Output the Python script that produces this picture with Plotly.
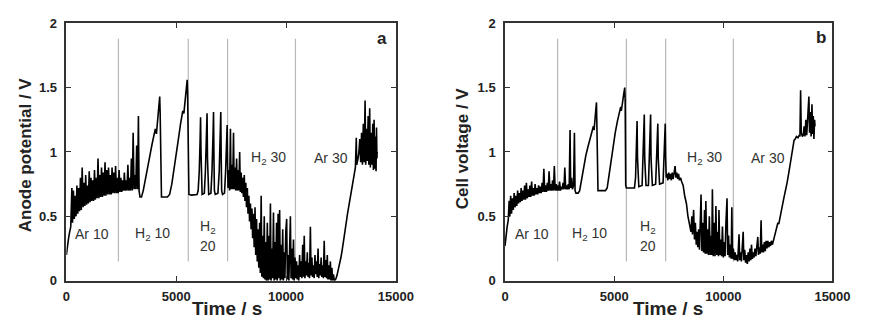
import plotly.graph_objects as go

# ---------------- data ----------------
# panel a : anode potential (V) vs time (s), split by gas phase
anode_ar10 = [(0,0.20),(50,0.28),(100,0.33),(150,0.38),(200,0.42),(250,0.72),(280,0.45),(320,0.70),(360,0.48),
              (400,0.66),(440,0.50),(480,0.74),(520,0.52),(560,0.72),(600,0.54),(640,0.80),(680,0.55),(720,0.88),
              (760,0.57),(800,0.76),(840,0.58),(880,0.82),(920,0.59),(960,0.74),(1000,0.60),(1040,0.85),(1080,0.61),
              (1120,0.80),(1160,0.62),(1200,0.78),(1240,0.62),(1280,0.86),(1320,0.63),(1360,0.80),(1400,0.64),
              (1440,0.95),(1480,0.64),(1520,0.82),(1560,0.65),(1600,0.88),(1640,0.65),(1680,0.84),(1720,0.66),
              (1760,0.92),(1800,0.66),(1840,0.86),(1880,0.67),(1920,0.88),(1960,0.67),(2000,0.82),(2040,0.67),
              (2080,0.88),(2120,0.68),(2160,0.84),(2200,0.68),(2240,0.89),(2280,0.68),(2320,0.80),(2360,0.68),(2400,0.86)]
anode_h2_10 = [(2440,0.69),(2480,0.80),(2520,0.69),(2560,0.78),(2600,0.70),(2640,0.84),(2680,0.70),(2720,0.78),
               (2760,0.70),(2800,0.90),(2840,0.70),(2880,0.80),(2920,0.70),(2960,0.95),(3000,0.70),(3040,1.15),
               (3080,0.71),(3120,0.82),(3160,0.71),(3200,1.05),(3240,0.71),(3280,1.28),(3310,0.70),(3350,0.65),
               (3420,0.65),(3500,0.70),(3600,0.80),(3700,0.88),(3800,0.97),(3900,1.06),(4000,1.14),(4050,1.18),
               (4100,1.14),(4150,1.26),(4200,1.34),(4250,1.43),(4270,1.30),(4300,0.68),(4330,0.65),(4600,0.65),
               (4700,0.67),(4800,0.75),(4900,0.88),(5000,1.00),(5100,1.10),(5200,1.22),(5300,1.32),(5350,1.30),
               (5400,1.40),(5450,1.46),(5500,1.56),(5520,1.45),(5550,0.70),(5580,0.67)]
anode_h2_20 = [(5700,0.665),(5950,0.67),(6000,0.70),(6050,0.85),(6090,1.10),(6110,1.27),(6130,1.00),(6150,0.70),
               (6180,0.67),(6280,0.68),(6330,0.85),(6380,1.15),(6405,1.30),(6425,0.95),(6445,0.70),(6480,0.67),
               (6580,0.68),(6630,0.85),(6680,1.15),(6700,1.31),(6720,0.95),(6740,0.70),(6780,0.67),(6900,0.68),
               (6960,0.85),(7000,1.10),(7030,1.31),(7050,0.95),(7070,0.70),(7110,0.67),(7200,0.68),(7250,0.85),
               (7290,1.05),(7320,1.21),(7340,0.90),(7360,0.72)]
anode_h2_30 = [(7400,0.86),(7430,0.70),(7470,1.18),(7500,0.71),(7540,0.90),(7570,0.71),(7610,1.15),(7640,0.71),
               (7680,0.88),(7710,0.70),(7750,0.95),(7780,0.70),(7820,0.86),(7850,0.70),(7890,1.00),(7920,0.69),
               (7960,0.84),(7990,0.68),(8030,0.80),(8060,0.65),(8100,0.82),(8130,0.62),(8170,0.76),(8200,0.57),
               (8240,0.72),(8270,0.52),(8310,0.66),(8340,0.46),(8380,0.60),(8410,0.40),(8450,0.56),(8480,0.33),
               (8520,0.52),(8550,0.26),(8590,0.57),(8620,0.20),(8660,0.48),(8690,0.15),(8730,0.40),(8760,0.10),
               (8800,0.45),(8830,0.06),(8870,0.66),(8900,0.03),(8940,0.35),(8970,0.02),(9010,0.50),(9040,0.01),
               (9080,0.30),(9110,0.00),(9150,0.45),(9180,0.00),(9220,0.35),(9250,0.01),(9290,0.60),(9320,0.00),
               (9360,0.25),(9390,0.02),(9430,0.53),(9460,0.00),(9500,0.30),(9530,0.01),(9570,0.45),(9600,0.00),
               (9640,0.52),(9670,0.02),(9710,0.55),(9740,0.00),(9780,0.28),(9810,0.01),(9850,0.40),(9880,0.00),
               (9920,0.22),(9950,0.02),(9990,0.38),(10030,0.48),(10060,0.01),(10100,0.20),(10130,0.00),(10170,0.30),
               (10200,0.50),(10230,0.02),(10270,0.25),(10300,0.01),(10340,0.32),(10370,0.00),(10410,0.18),(10440,0.02)]
anode_ar30 = [(10480,0.15),(10510,0.01),(10550,0.12),(10580,0.00),(10620,0.20),(10650,0.03),(10690,0.15),(10720,0.02),
              (10760,0.28),(10790,0.03),(10830,0.35),(10860,0.02),(10900,0.15),(10930,0.04),(10970,0.22),(11000,0.03),
              (11040,0.14),(11070,0.02),(11110,0.42),(11140,0.04),(11180,0.18),(11210,0.03),(11250,0.12),(11280,0.02),
              (11320,0.20),(11350,0.05),(11390,0.15),(11420,0.03),(11460,0.25),(11490,0.02),(11530,0.13),(11560,0.04),
              (11600,0.18),(11630,0.03),(11670,0.12),(11700,0.02),(11740,0.31),(11770,0.03),(11810,0.16),(11840,0.02),
              (11880,0.20),(11910,0.01),(11950,0.12),(11980,0.01),(12020,0.15),(12050,0.00),(12090,0.10),(12120,0.00),
              (12160,0.05),(12200,0.00),(12260,0.01),(12320,0.04),(12380,0.08),(12440,0.13),(12500,0.18),(12560,0.24),
              (12620,0.30),(12680,0.38),(12740,0.45),(12800,0.52),(12860,0.58),(12920,0.64),(12980,0.70),(13040,0.76),
              (13100,0.82),(13160,0.88),(13200,1.11),(13220,0.90),(13280,0.95),(13320,1.00),(13360,1.10),(13400,0.92),
              (13440,1.15),(13480,0.90),(13520,1.22),(13560,0.92),(13600,1.40),(13630,0.90),(13670,1.18),(13700,0.93),
              (13740,1.28),(13770,0.90),(13810,1.34),(13840,0.88),(13880,1.15),(13910,0.90),(13950,1.22),(13980,0.86),
              (14010,1.25),(14040,0.87),(14070,1.12),(14100,0.85),(14120,1.19),(14140,0.95),(14150,1.00)]

# panel b : cell voltage (V) vs time (s)
cell_ar10 = [(0,0.27),(50,0.36),(100,0.42),(150,0.47),(190,0.62),(220,0.50),(260,0.66),(300,0.52),(340,0.64),
             (380,0.55),(420,0.68),(460,0.57),(500,0.66),(540,0.58),(580,0.70),(620,0.60),(660,0.68),(700,0.61),
             (740,0.72),(780,0.62),(820,0.70),(860,0.63),(900,0.74),(940,0.63),(980,0.76),(1020,0.64),(1060,0.71),
             (1100,0.65),(1140,0.74),(1180,0.65),(1220,0.77),(1260,0.66),(1300,0.72),(1340,0.66),(1380,0.75),
             (1420,0.67),(1460,0.72),(1500,0.67),(1540,0.74),(1580,0.68),(1620,0.73),(1660,0.68),(1700,0.76),
             (1740,0.69),(1780,0.87),(1820,0.69),(1860,0.74),(1900,0.69),(1940,0.76),(1980,0.70),(2020,0.85),
             (2060,0.70),(2100,0.75),(2140,0.70),(2180,0.78),(2220,0.70),(2260,0.89),(2300,0.70),(2340,0.75),(2380,0.70)]
cell_h2_10 = [(2420,0.74),(2460,0.70),(2500,0.77),(2540,0.70),(2580,0.73),(2620,0.71),(2660,0.76),(2700,0.71),
              (2740,0.88),(2780,0.71),(2820,0.74),(2860,0.71),(2900,0.75),(2940,0.71),(2980,1.17),(3010,0.72),
              (3050,0.80),(3090,0.71),(3140,0.74),(3180,1.15),(3210,0.70),(3250,0.68),(3350,0.68),(3420,0.70),
              (3500,0.78),(3600,0.88),(3700,0.97),(3800,1.04),(3900,1.10),(4000,1.17),(4050,1.20),(4080,1.17),
              (4120,1.25),(4175,1.30),(4190,1.385),(4210,1.20),(4230,0.72),(4260,0.70),(4600,0.70),(4680,0.72),
              (4750,0.80),(4850,0.93),(4950,1.05),(5050,1.15),(5150,1.24),(5250,1.32),(5300,1.35),(5330,1.32),
              (5380,1.40),(5430,1.44),(5485,1.50),(5505,1.40),(5530,0.74),(5560,0.72)]
cell_h2_20 = [(5930,0.72),(5980,0.80),(6020,1.05),(6050,1.24),(6070,0.95),(6095,0.75),(6130,0.73),(6280,0.74),
              (6330,1.00),(6380,1.29),(6400,0.95),(6425,0.76),(6460,0.74),(6570,0.74),(6620,1.00),(6670,1.29),
              (6690,0.95),(6715,0.76),(6750,0.74),(6900,0.75),(6950,1.00),(7000,1.22),(7020,0.95),(7045,0.77),
              (7080,0.75),(7240,0.76),(7290,1.00),(7340,1.22),(7360,0.95),(7385,0.80)]
cell_h2_30 = [(7420,0.83),(7460,0.78),(7500,0.84),(7540,0.79),(7580,0.83),(7620,0.78),(7660,0.84),(7700,0.79),
              (7740,0.83),(7790,0.89),(7830,0.80),(7870,0.84),(7910,0.79),(7950,0.83),(7990,0.78),(8040,0.80),
              (8090,0.77),(8160,0.74),(8230,0.66),(8310,0.60),(8380,0.50),(8460,0.43),(8520,0.38),(8560,0.50),
              (8590,0.36),(8640,0.55),(8680,0.32),(8720,0.45),(8760,0.28),(8800,0.38),(8830,0.26),(8870,0.40),
              (8910,0.24),(8980,0.67),(9020,0.23),(9060,0.45),(9100,0.22),(9140,0.55),(9170,0.21),(9200,0.62),
              (9240,0.21),(9280,0.40),(9320,0.20),(9360,0.50),(9400,0.20),(9440,0.35),(9470,0.20),(9500,0.71),
              (9540,0.19),(9580,0.45),(9620,0.19),(9660,0.58),(9700,0.20),(9740,0.38),(9780,0.19),(9800,0.55),
              (9840,0.20),(9880,0.32),(9920,0.19),(9960,0.42),(10000,0.18),(10040,0.30),(10080,0.19),(10120,0.45),
              (10170,0.64),(10200,0.20),(10240,0.35),(10280,0.18),(10320,0.28),(10360,0.17),(10390,0.57),(10420,0.17)]
cell_ar30 = [(10460,0.25),(10500,0.16),(10540,0.22),(10580,0.16),(10620,0.20),(10660,0.15),(10720,0.36),(10750,0.16),
             (10790,0.22),(10830,0.15),(10870,0.25),(10910,0.38),(10940,0.16),(10980,0.24),(11020,0.14),(11060,0.20),
             (11100,0.13),(11140,0.22),(11180,0.15),(11220,0.25),(11260,0.16),(11290,0.28),(11330,0.17),(11370,0.22),
             (11410,0.18),(11450,0.25),(11490,0.19),(11540,0.27),(11580,0.34),(11610,0.20),(11650,0.26),(11690,0.21),
             (11730,0.47),(11760,0.22),(11800,0.28),(11840,0.22),(11880,0.30),(11920,0.23),(11960,0.31),(12000,0.25),
             (12040,0.31),(12080,0.26),(12120,0.30),(12160,0.27),(12200,0.31),(12250,0.28),(12320,0.33),(12400,0.38),
             (12470,0.42),(12500,0.45),(12540,0.44),(12620,0.50),(12700,0.58),(12770,0.64),(12850,0.70),(12920,0.76),
             (13000,0.84),(13070,0.92),(13130,0.99),(13180,1.06),(13240,1.09),(13290,1.10),(13350,1.12),(13420,1.11),
             (13480,1.13),(13510,1.12),(13540,1.48),(13570,1.15),(13620,1.12),(13660,1.13),(13700,1.20),(13740,1.12),
             (13780,1.25),(13820,1.13),(13880,1.30),(13920,1.43),(13950,1.15),(13990,1.31),(14020,1.12),(14060,1.37),
             (14090,1.14),(14120,1.28),(14150,1.10),(14180,1.25),(14200,1.20)]

# gas-switch boundaries (s)
boundaries_a = [2370, 5550, 7340, 10430]
boundaries_b = [2410, 5560, 7360, 10460]
boundary_span = [0.15, 1.88]

# phase labels
phase_text = ["Ar 10", "H<sub>2</sub> 10", "H<sub>2</sub>", "20", "H<sub>2</sub> 30", "Ar 30"]
phase_x_a = [1150, 3900, 6430, 6430, 9220, 12030]
phase_x_b = [1220, 3850, 6540, 6540, 9130, 12030]
phase_y = [0.36, 0.36, 0.42, 0.27, 0.95, 0.95]

x_ticks = [0, 5000, 10000, 15000]
y_ticks = [0, 0.5, 1, 1.5, 2]
y_ticklabels = ["0", "0.5", "1", "1.5", "2"]

# ---------------- figure ----------------
def unzip(*segs):
    t, v = [], []
    for s in segs:
        for a, b in s:
            t.append(a); v.append(b)
    return t, v

ta, va = unzip(anode_ar10, anode_h2_10, anode_h2_20, anode_h2_30, anode_ar30)
tb, vb = unzip(cell_ar10, cell_h2_10, cell_h2_20, cell_h2_30, cell_ar30)

FONT = "Liberation Sans, Arial, sans-serif"
fig = go.Figure()
fig.add_trace(go.Scatter(x=ta, y=va, mode="lines", line=dict(color="black", width=1.6),
                         xaxis="x", yaxis="y", showlegend=False, hoverinfo="skip"))
fig.add_trace(go.Scatter(x=tb, y=vb, mode="lines", line=dict(color="black", width=1.6),
                         xaxis="x2", yaxis="y2", showlegend=False, hoverinfo="skip"))

W, H = 869, 324
def px_x(p): return p / W
def px_y(p): return 1 - p / H

axis_common = dict(showline=True, linecolor="#333", linewidth=1.5, mirror="allticks",
                   ticks="inside", ticklen=5, tickwidth=1, tickcolor="#333",
                   showgrid=False, zeroline=False,
                   tickfont=dict(family=FONT, size=13, color="#222", weight="bold"))
xa = dict(axis_common, range=[0, 15000], tickvals=x_ticks, ticktext=[str(v) for v in x_ticks],
          ticklabelstandoff=3)
ya = dict(axis_common, range=[0, 2], tickvals=y_ticks, ticktext=y_ticklabels, ticklabelstandoff=5)

fig.update_layout(
    width=W, height=H, margin=dict(l=0, r=0, t=0, b=0),
    paper_bgcolor="white", plot_bgcolor="white",
    xaxis=dict(xa, domain=[px_x(64), px_x(402)], anchor="y"),
    yaxis=dict(ya, domain=[px_y(287), px_y(17)], anchor="x"),
    xaxis2=dict(xa, domain=[px_x(514), px_x(850)], anchor="y2"),
    yaxis2=dict(ya, domain=[px_y(287), px_y(17)], anchor="x2"),
)

shapes = []
for b in boundaries_a:
    shapes.append(dict(type="line", xref="x", yref="y", x0=b, x1=b, y0=boundary_span[0], y1=boundary_span[1],
                       line=dict(color="#b8b8b8", width=1.2), layer="below"))
for b in boundaries_b:
    shapes.append(dict(type="line", xref="x2", yref="y2", x0=b, x1=b, y0=boundary_span[0], y1=boundary_span[1],
                       line=dict(color="#b8b8b8", width=1.2), layer="below"))
fig.update_layout(shapes=shapes)

ann = []
for txt, xa_, xb_, y in zip(phase_text, phase_x_a, phase_x_b, phase_y):
    ann.append(dict(text=txt, x=xa_, y=y, xref="x", yref="y", showarrow=False,
                    xanchor="center", yanchor="middle",
                    font=dict(family=FONT, size=14, color="#333")))
    ann.append(dict(text=txt, x=xb_, y=y, xref="x2", yref="y2", showarrow=False,
                    xanchor="center", yanchor="middle",
                    font=dict(family=FONT, size=14, color="#333")))
ann.append(dict(text="<b>a</b>", x=14380, y=1.88, xref="x", yref="y", showarrow=False,
                xanchor="center", yanchor="middle", font=dict(family=FONT, size=17, color="#222")))
ann.append(dict(text="<b>b</b>", x=14480, y=1.89, xref="x2", yref="y2", showarrow=False,
                xanchor="center", yanchor="middle", font=dict(family=FONT, size=17, color="#222")))
# axis titles
for tx, xp in (("<b>Time / s</b>", 229), ("<b>Time / s</b>", 681)):
    ann.append(dict(text=tx, x=px_x(xp), y=px_y(316), xref="paper", yref="paper",
                    xanchor="center", yanchor="middle",
                    showarrow=False, font=dict(family=FONT, size=19, color="#222")))
for tx, xp, yp in (("<b>Anode potential / V</b>", 22, 155), ("<b>Cell voltage / V</b>", 470, 148)):
    ann.append(dict(text=tx, x=px_x(xp), y=px_y(yp), xref="paper", yref="paper",
                    xanchor="center", yanchor="middle",
                    showarrow=False, textangle=-90, font=dict(family=FONT, size=17, color="#222")))
fig.update_layout(annotations=ann)

fig.write_html("out.html", config={"displayModeBar": False},
               post_script="document.body.style.margin='0';")
